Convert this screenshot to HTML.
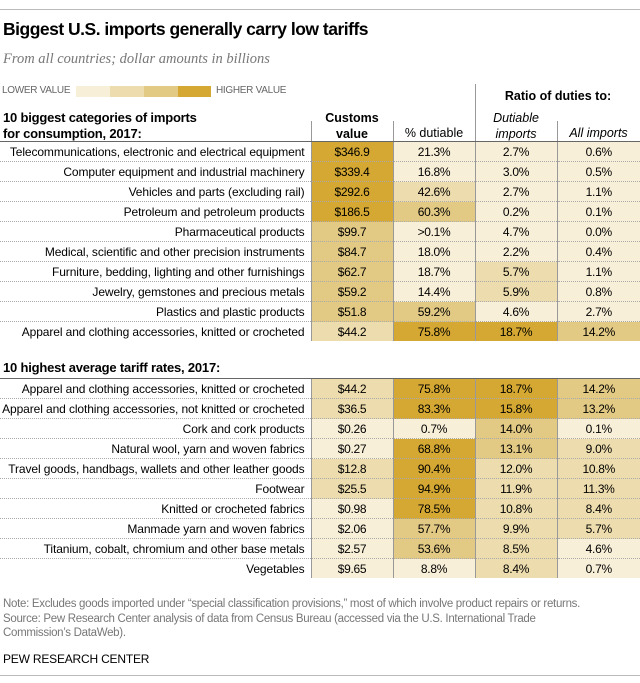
<!DOCTYPE html>
<html><head><meta charset="utf-8"><style>
body{margin:0;width:640px;height:683px;background:#fff;position:relative;font-family:"Liberation Sans",sans-serif;color:#000;overflow:hidden}
.a{position:absolute;white-space:nowrap}
table{position:absolute;left:0;border-collapse:collapse;table-layout:fixed;width:640px;font-size:12px;letter-spacing:-0.3px}
td{height:19px;padding:0;text-align:center;border-bottom:1px dotted #aaa;border-right:1px solid #999}
td.l{text-align:right;padding-right:6px;border-right:1px solid #999;overflow:visible;letter-spacing:-0.1px;white-space:nowrap}
td:last-child{border-right:none}
.c1{background:#f8efd8}.c2{background:#eddcad}.c3{background:#e3ca84}.c4{background:#d4a832}
.vl{position:absolute;width:1px;background:#999}
</style></head><body>
<div class="a" style="left:0;top:9px;width:640px;height:1px;background:#bbb"></div>
<div class="a" style="left:3px;top:19px;font-size:17.5px;font-weight:bold;letter-spacing:-0.5px">Biggest U.S. imports generally carry low tariffs</div>
<div class="a" style="left:3px;top:51px;font-family:'Liberation Serif',serif;font-style:italic;font-size:14.5px;color:#777">From all countries; dollar amounts in billions</div>
<div class="a" style="left:2px;top:85px;font-size:10px;color:#666;letter-spacing:-0.3px">LOWER VALUE</div>
<div class="a c1" style="left:76px;top:86px;width:34px;height:11px"></div>
<div class="a c2" style="left:110px;top:86px;width:34px;height:11px"></div>
<div class="a c3" style="left:144px;top:86px;width:34px;height:11px"></div>
<div class="a c4" style="left:178px;top:86px;width:33px;height:11px"></div>
<div class="a" style="left:216px;top:85px;font-size:10px;color:#666;letter-spacing:-0.3px">HIGHER VALUE</div>
<div class="vl" style="left:475px;top:84px;height:58px"></div>
<div class="vl" style="left:311px;top:121px;height:21px"></div>
<div class="vl" style="left:393px;top:121px;height:21px"></div>
<div class="vl" style="left:557px;top:121px;height:21px"></div>
<div class="a" style="left:476px;top:89px;width:164px;text-align:center;font-weight:bold;font-size:12.5px">Ratio of duties to:</div>
<div class="a" style="left:3px;top:110px;font-weight:bold;font-size:13px;line-height:16px;letter-spacing:-0.2px">10 biggest categories of imports<br>for consumption, 2017:</div>
<div class="a" style="left:311px;top:110px;width:82px;text-align:center;font-weight:bold;font-size:12.5px;line-height:16px">Customs<br>value</div>
<div class="a" style="left:393px;top:126px;width:82px;text-align:center;font-size:12.5px">% dutiable</div>
<div class="a" style="left:475px;top:110px;width:82px;text-align:center;font-style:italic;font-size:12.5px;line-height:16px">Dutiable<br>imports</div>
<div class="a" style="left:557px;top:126px;width:83px;text-align:center;font-style:italic;font-size:12.5px">All imports</div>
<div class="a" style="left:0;top:141px;width:640px;height:1px;background:#666"></div>
<table style="top:142px"><colgroup><col style="width:311px"><col style="width:82px"><col style="width:82px"><col style="width:82px"><col style="width:83px"></colgroup>
<tr><td class="l">Telecommunications, electronic and electrical equipment</td><td class="c4">$346.9</td><td class="c1">21.3%</td><td class="c1">2.7%</td><td class="c1">0.6%</td></tr>
<tr><td class="l">Computer equipment and industrial machinery</td><td class="c4">$339.4</td><td class="c1">16.8%</td><td class="c1">3.0%</td><td class="c1">0.5%</td></tr>
<tr><td class="l">Vehicles and parts (excluding rail)</td><td class="c4">$292.6</td><td class="c2">42.6%</td><td class="c1">2.7%</td><td class="c1">1.1%</td></tr>
<tr><td class="l">Petroleum and petroleum products</td><td class="c4">$186.5</td><td class="c3">60.3%</td><td class="c1">0.2%</td><td class="c1">0.1%</td></tr>
<tr><td class="l">Pharmaceutical products</td><td class="c3">$99.7</td><td class="c1">&gt;0.1%</td><td class="c1">4.7%</td><td class="c1">0.0%</td></tr>
<tr><td class="l">Medical, scientific and other precision instruments</td><td class="c3">$84.7</td><td class="c1">18.0%</td><td class="c1">2.2%</td><td class="c1">0.4%</td></tr>
<tr><td class="l">Furniture, bedding, lighting and other furnishings</td><td class="c3">$62.7</td><td class="c1">18.7%</td><td class="c2">5.7%</td><td class="c1">1.1%</td></tr>
<tr><td class="l">Jewelry, gemstones and precious metals</td><td class="c3">$59.2</td><td class="c1">14.4%</td><td class="c2">5.9%</td><td class="c1">0.8%</td></tr>
<tr><td class="l">Plastics and plastic products</td><td class="c3">$51.8</td><td class="c3">59.2%</td><td class="c1">4.6%</td><td class="c1">2.7%</td></tr>
<tr><td class="l" style="border-bottom:none">Apparel and clothing accessories, knitted or crocheted</td><td class="c2" style="border-bottom:none">$44.2</td><td class="c4" style="border-bottom:none">75.8%</td><td class="c4" style="border-bottom:none">18.7%</td><td class="c3" style="border-bottom:none">14.2%</td></tr>
</table>
<div class="a" style="left:3px;top:360px;font-weight:bold;font-size:13px;letter-spacing:-0.2px">10 highest average tariff rates, 2017:</div>
<div class="a" style="left:0;top:378px;width:640px;height:1px;background:#666"></div>
<table style="top:379px"><colgroup><col style="width:311px"><col style="width:82px"><col style="width:82px"><col style="width:82px"><col style="width:83px"></colgroup>
<tr><td class="l">Apparel and clothing accessories, knitted or crocheted</td><td class="c2">$44.2</td><td class="c4">75.8%</td><td class="c4">18.7%</td><td class="c3">14.2%</td></tr>
<tr><td class="l">Apparel and clothing accessories, not knitted or crocheted</td><td class="c2">$36.5</td><td class="c4">83.3%</td><td class="c4">15.8%</td><td class="c3">13.2%</td></tr>
<tr><td class="l">Cork and cork products</td><td class="c1">$0.26</td><td class="c1">0.7%</td><td class="c3">14.0%</td><td class="c1">0.1%</td></tr>
<tr><td class="l">Natural wool, yarn and woven fabrics</td><td class="c1">$0.27</td><td class="c4">68.8%</td><td class="c3">13.1%</td><td class="c2">9.0%</td></tr>
<tr><td class="l">Travel goods, handbags, wallets and other leather goods</td><td class="c2">$12.8</td><td class="c4">90.4%</td><td class="c2">12.0%</td><td class="c2">10.8%</td></tr>
<tr><td class="l">Footwear</td><td class="c2">$25.5</td><td class="c4">94.9%</td><td class="c2">11.9%</td><td class="c2">11.3%</td></tr>
<tr><td class="l">Knitted or crocheted fabrics</td><td class="c1">$0.98</td><td class="c4">78.5%</td><td class="c2">10.8%</td><td class="c2">8.4%</td></tr>
<tr><td class="l">Manmade yarn and woven fabrics</td><td class="c1">$2.06</td><td class="c3">57.7%</td><td class="c2">9.9%</td><td class="c2">5.7%</td></tr>
<tr><td class="l">Titanium, cobalt, chromium and other base metals</td><td class="c1">$2.57</td><td class="c3">53.6%</td><td class="c2">8.5%</td><td class="c1">4.6%</td></tr>
<tr><td class="l" style="border-bottom:none">Vegetables</td><td class="c1" style="border-bottom:none">$9.65</td><td class="c1" style="border-bottom:none">8.8%</td><td class="c2" style="border-bottom:none">8.4%</td><td class="c1" style="border-bottom:none">0.7%</td></tr>
</table>
<div class="a" style="left:3px;top:597px;font-size:11.5px;line-height:14.5px;color:#777;letter-spacing:-0.3px">Note: Excludes goods imported under “special classification provisions,” most of which involve product repairs or returns.<br>Source: Pew Research Center analysis of data from Census Bureau (accessed via the U.S. International Trade<br>Commission’s DataWeb).</div>
<div class="a" style="left:3px;top:652px;font-size:12px;color:#000;letter-spacing:-0.2px">PEW RESEARCH CENTER</div>
<div class="a" style="left:0;top:675px;width:640px;height:1px;background:#bbb"></div>
</body></html>
